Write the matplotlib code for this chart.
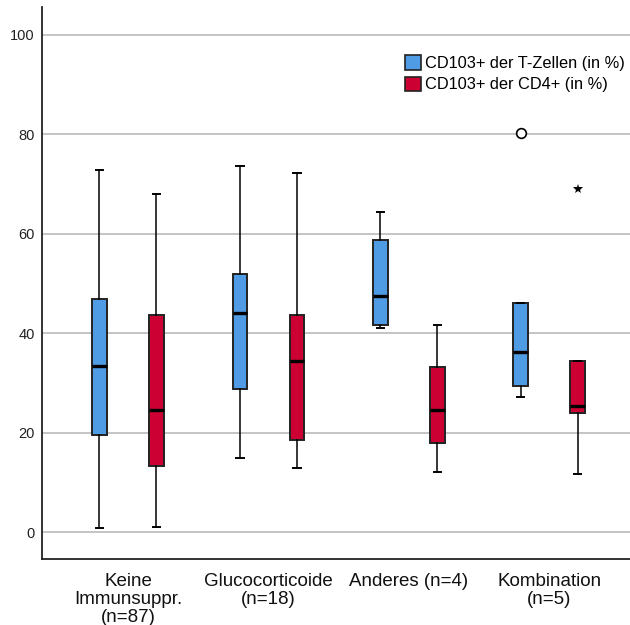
import matplotlib
matplotlib.use("Agg")
import matplotlib.pyplot as plt
from matplotlib.patches import Patch
import numpy as np

plt.rcParams['font.family'] = ['Liberation Sans', 'DejaVu Sans']

categories = ["Keine\nImmunsuppr.\n(n=87)", "Glucocorticoide\n(n=18)",
              "Anderes (n=4)", "Kombination\n(n=5)"]
series_names = ["CD103+ der T-Zellen (in %)", "CD103+ der CD4+ (in %)"]

# Box statistics per group: [lower whisker, Q1, median, Q3, upper whisker]
tcell_whislo = [0.8, 15.0, 41.1, 27.2]
tcell_q1 = [19.6, 28.8, 41.6, 29.4]
tcell_med = [33.4, 44.0, 47.5, 36.2]
tcell_q3 = [46.9, 51.8, 58.8, 46.1]
tcell_whishi = [72.8, 73.7, 64.4, 46.1]
tcell_outliers = [[], [], [], [80.2]]
tcell_extremes = [[], [], [], []]

cd4_whislo = [1.0, 12.9, 12.1, 11.6]
cd4_q1 = [13.3, 18.5, 18.0, 23.9]
cd4_med = [24.5, 34.4, 24.5, 25.4]
cd4_q3 = [43.7, 43.7, 33.3, 34.5]
cd4_whishi = [68.0, 72.2, 41.6, 34.5]
cd4_outliers = [[], [], [], []]
cd4_extremes = [[], [], [], [69.0]]

colors = ["#4f9be4", "#cc0033"]
yticks = [0, 20, 40, 60, 80, 100]

fig = plt.figure(figsize=(6.3, 6.25), dpi=100)
ax = fig.add_axes([0.066, 0.1056, 0.934, 0.8834])

x = np.arange(len(categories))
offset = 0.203
width = 0.105

series = [
    (tcell_whislo, tcell_q1, tcell_med, tcell_q3, tcell_whishi, tcell_outliers, tcell_extremes),
    (cd4_whislo, cd4_q1, cd4_med, cd4_q3, cd4_whishi, cd4_outliers, cd4_extremes),
]

for si, (wlo, q1, med, q3, whi, outl, extr) in enumerate(series):
    stats = []
    for i in range(len(categories)):
        stats.append(dict(whislo=wlo[i], q1=q1[i], med=med[i], q3=q3[i],
                          whishi=whi[i], fliers=[]))
    pos = x + (-offset if si == 0 else offset)
    ax.bxp(stats, positions=pos, widths=width, capwidths=width * 0.5,
           patch_artist=True, showfliers=False,
           boxprops=dict(facecolor=colors[si], edgecolor="#222222", linewidth=1.4),
           medianprops=dict(color="black", linewidth=2.4),
           whiskerprops=dict(color="black", linewidth=1.1),
           capprops=dict(color="black", linewidth=1.4),
           zorder=3)
    for i in range(len(categories)):
        if outl[i]:
            ax.plot([pos[i]] * len(outl[i]), outl[i], linestyle="none", marker="o",
                    markersize=7, markerfacecolor="white", markeredgecolor="black",
                    markeredgewidth=1.2, zorder=4)
        if extr[i]:
            ax.plot([pos[i]] * len(extr[i]), extr[i], linestyle="none", marker="*",
                    markersize=7, color="black", markeredgewidth=0, zorder=4)

ax.set_xlim(-0.615, 3.575)
ax.set_ylim(-5.4, 105.6)
ax.set_yticks(yticks)
ax.set_yticklabels([str(v) for v in yticks], fontsize=10.5, color="#222222")
ax.set_xticks(x)
ax.set_xticklabels(categories, fontsize=13.5, linespacing=1.1, color="#111111")
ax.tick_params(axis="both", length=0)
ax.tick_params(axis="x", pad=10)
ax.tick_params(axis="y", pad=5)
ax.grid(axis="y", color="#c4c4c4", linewidth=1.4, zorder=0)
ax.set_axisbelow(True)
for side in ["top", "right"]:
    ax.spines[side].set_visible(False)
for side in ["left", "bottom"]:
    ax.spines[side].set_color("#222222")
    ax.spines[side].set_linewidth(1.3)

handles = [Patch(facecolor=colors[i], edgecolor="#222222", linewidth=1.2,
                 label=series_names[i]) for i in range(2)]
ax.legend(handles=handles, loc="upper left", bbox_to_anchor=(0.607, 0.925),
          frameon=False, fontsize=11.8, handlelength=0.95, handleheight=1.0,
          handletextpad=0.25, labelspacing=0.35, borderaxespad=0)

fig.savefig("out.png", dpi=100)
